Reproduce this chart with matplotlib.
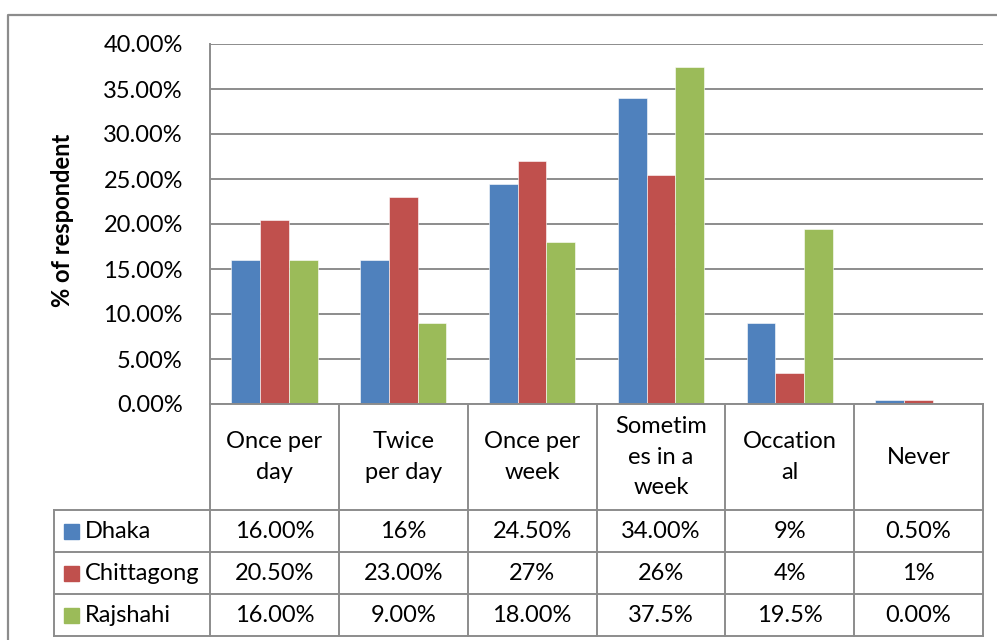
import matplotlib.pyplot as plt
import numpy as np

plt.rcParams['font.family'] = ['Lato', 'DejaVu Sans']

categories = ['Once per\nday', 'Twice\nper day', 'Once per\nweek',
              'Sometim\nes in a\nweek', 'Occation\nal', 'Never']
series = ['Dhaka', 'Chittagong', 'Rajshahi']
dhaka = [16.0, 16.0, 24.5, 34.0, 9.0, 0.5]
chittagong = [20.5, 23.0, 27.0, 25.5, 3.5, 0.5]
rajshahi = [16.0, 9.0, 18.0, 37.5, 19.5, 0.0]
# cell text as formatted in the source table
dhaka_txt = ['16.00%', '16%', '24.50%', '34.00%', '9%', '0.50%']
chittagong_txt = ['20.50%', '23.00%', '27%', '26%', '4%', '1%']
rajshahi_txt = ['16.00%', '9.00%', '18.00%', '37.5%', '19.5%', '0.00%']
colors = ['#4F81BD', '#C0504D', '#9BBB59']
yticks = np.arange(0, 45, 5)

W, H = 997, 640
fig = plt.figure(figsize=(W / 100, H / 100), dpi=100)
fs = 17

# pixel layout
left, right, top, base = 210, 983, 44, 404
row_y = [510, 552, 594, 636]
label_x = 54
grid = '#8C8C8C'

ax = fig.add_axes([left / W, 1 - base / H, (right - left) / W, (base - top) / H])
x = np.arange(len(categories))
bw = 0.223
for i, (vals, c) in enumerate(zip([dhaka, chittagong, rajshahi], colors)):
    ax.bar(x + (i - 1) * bw, vals, width=bw, color=c, edgecolor='white',
           linewidth=0.4, zorder=3)
ax.set_xlim(-0.5, len(categories) - 0.5)
ax.set_ylim(0, 40)
ax.set_yticks(yticks)
ax.set_yticklabels([f'{v:.2f}%' for v in yticks], fontsize=fs)
ax.tick_params(axis='y', length=0, pad=19.5)
ax.set_xticks([])
ax.yaxis.grid(True, color=grid, linewidth=1.4, zorder=0)
for s in ['top', 'right', 'bottom']:
    ax.spines[s].set_visible(False)
ax.spines['left'].set_color(grid)
ax.spines['left'].set_linewidth(1.4)

fig.text(62 / W, 1 - 220 / H, '% of respondent', rotation=90, ha='center',
         va='center', fontsize=fs, fontweight='bold')

# overlay in pixel coordinates for the frame and data table
ov = fig.add_axes([0, 0, 1, 1], zorder=5)
ov.set_xlim(0, W)
ov.set_ylim(H, 0)
ov.axis('off')
ov.patch.set_alpha(0)

# chart frame
ov.plot([8, 8, W], [H, 15, 15], color='#8C8C8C', lw=1.6)

col_x = np.linspace(left, right, len(categories) + 1)
lw = 1.4
ov.plot([left, right], [base, base], color=grid, lw=lw)
for yy in row_y:
    ov.plot([label_x, right], [yy, yy], color=grid, lw=lw)
for xx in col_x:
    ov.plot([xx, xx], [base, row_y[-1]], color=grid, lw=lw)
ov.plot([label_x, label_x], [row_y[0], row_y[-1]], color=grid, lw=lw)

cx = (col_x[:-1] + col_x[1:]) / 2
for c, lab in zip(cx, categories):
    ov.text(c, (base + row_y[0]) / 2, lab, ha='center', va='center',
            fontsize=fs, linespacing=1.55)

rows = [dhaka_txt, chittagong_txt, rajshahi_txt]
for r, (name, col, txts) in enumerate(zip(series, colors, rows)):
    yc = (row_y[r] + row_y[r + 1]) / 2
    ov.add_patch(plt.Rectangle((64, yc - 7.5), 15, 15, color=col))
    ov.text(85, yc, name, ha='left', va='center', fontsize=fs)
    for c, t in zip(cx, txts):
        ov.text(c, yc, t, ha='center', va='center', fontsize=fs)

fig.savefig('out.png', dpi=100)
